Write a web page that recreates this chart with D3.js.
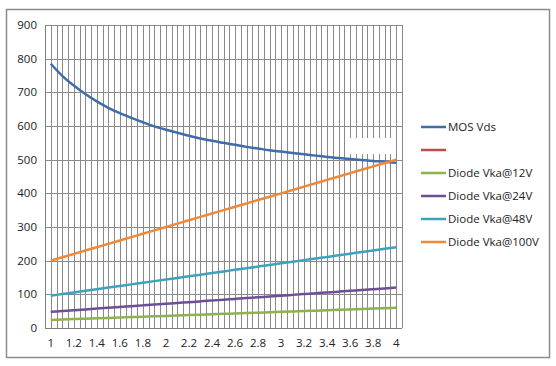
<!DOCTYPE html>
<html><head><meta charset="utf-8">
<script src="https://cdn.jsdelivr.net/npm/d3@7"></script>
<style>body{margin:0;background:#fff}svg{display:block}text{font-family:"Open Sans",Arial,sans-serif}</style>
</head><body><svg id="c" width="556" height="366"></svg>
<script>
const categories = [1,1.1,1.2,1.3,1.4,1.5,1.6,1.7,1.8,1.9,2,2.1,2.2,2.3,2.4,2.5,2.6,2.7,2.8,2.9,3,3.1,3.2,3.3,3.4,3.5,3.6,3.7,3.8,3.9,4];
const mosVds = [785,749,720,695,673,654,638,624,611,599,589,580,571,563,556,550,544,538,533,528,524,520,516,512,508,505,502,499,496,494,491];
const emptySeries = [];
const vka12 = [24,25.2,26.4,27.6,28.8,30,31.2,32.4,33.6,34.8,36,37.2,38.4,39.6,40.8,42,43.2,44.4,45.6,46.8,48,49.2,50.4,51.6,52.8,54,55.2,56.4,57.6,58.8,60];
const vka24 = [48,50.4,52.8,55.2,57.6,60,62.4,64.8,67.2,69.6,72,74.4,76.8,79.2,81.6,84,86.4,88.8,91.2,93.6,96,98.4,100.8,103.2,105.6,108,110.4,112.8,115.2,117.6,120];
const vka48 = [96,100.8,105.6,110.4,115.2,120,124.8,129.6,134.4,139.2,144,148.8,153.6,158.4,163.2,168,172.8,177.6,182.4,187.2,192,196.8,201.6,206.4,211.2,216,220.8,225.6,230.4,235.2,240];
const vka100 = [200,210,220,230,240,250,260,270,280,290,300,310,320,330,340,350,360,370,380,390,400,410,420,430,440,450,460,470,480,490,500];
const seriesNames = ["MOS Vds","","Diode Vka@12V","Diode Vka@24V","Diode Vka@48V","Diode Vka@100V"];
const seriesColors = ["#3F6DAA","#BE4B48","#8DB24E","#6E4F96","#3FA2BD","#F0883A"];
const yTicks = [0,100,200,300,400,500,600,700,800,900];
const xLabels = ["1","1.2","1.4","1.6","1.8","2","2.2","2.4","2.6","2.8","3","3.2","3.4","3.6","3.8","4"];

const allSeries = [mosVds, emptySeries, vka12, vka24, vka48, vka100];
const svg = d3.select("#c");
svg.append("rect").attr("x",6.5).attr("y",9.5).attr("width",543).attr("height",348)
  .attr("fill","#fff").attr("stroke","#8c8c8c").attr("stroke-width",1.5);

const L=45, R=402, T=25, B=328;
const x = d3.scaleBand().domain(categories.map(String)).range([L,R]).padding(0);
const y = d3.scaleLinear().domain([0,900]).range([B,T]);
const g = svg.append("g");

// vertical gridlines at half-category steps
const bw = x.bandwidth();
const vx = d3.range(categories.length*2+1).map(i=>L+i*bw/2);
g.selectAll("line.v").data(vx).join("line").attr("class","v")
  .attr("x1",d=>Math.round(d)+0.5).attr("x2",d=>Math.round(d)+0.5).attr("y1",T).attr("y2",B)
  .attr("stroke","#8a8a8a").attr("stroke-width",1);
g.selectAll("line.h").data(yTicks).join("line").attr("class","h")
  .attr("x1",L).attr("x2",R).attr("y1",d=>Math.round(y(d))+0.5).attr("y2",d=>Math.round(y(d))+0.5)
  .attr("stroke","#8a8a8a").attr("stroke-width",1);
// axes lines
g.append("line").attr("x1",L+0.5).attr("x2",L+0.5).attr("y1",T).attr("y2",B+0.5).attr("stroke","#7f7f7f");
g.append("line").attr("x1",L).attr("x2",R).attr("y1",B+0.5).attr("y2",B+0.5).attr("stroke","#7f7f7f");

// legend background overlapping plot
svg.append("rect").attr("x",347).attr("y",138).attr("width",48).attr("height",16).attr("fill","#fff");

// y labels
svg.selectAll("text.yl").data(yTicks).join("text").attr("class","yl")
  .attr("x",37).attr("y",d=>y(d)).attr("dy","0.35em").attr("text-anchor","end")
  .attr("font-size",11.5).attr("fill","#222").text(d=>d);
// x labels
svg.selectAll("text.xl").data(xLabels).join("text").attr("class","xl")
  .attr("x",d=>x(String(+d))+bw/2).attr("y",343).attr("dy","0.35em").attr("text-anchor","middle")
  .attr("font-size",11.5).attr("fill","#222").text(d=>d);

const line = d3.line().x((d,i)=>x(String(categories[i]))+bw/2).y(d=>y(d)).curve(d3.curveMonotoneX);
allSeries.forEach((s,k)=>{
  if(!s.length) return;
  svg.append("path").attr("d",line(s)).attr("fill","none").attr("stroke",seriesColors[k])
    .attr("stroke-width",2.5).attr("stroke-linejoin","round");
});

// legend
const lg = svg.append("g");
seriesNames.forEach((n,k)=>{
  const yy = 127 + k*23;
  lg.append("line").attr("x1",421).attr("x2",446).attr("y1",yy).attr("y2",yy)
    .attr("stroke",seriesColors[k]).attr("stroke-width",2.5);
  lg.append("text").attr("x",448).attr("y",yy).attr("dy","0.35em").attr("font-size",11.5)
    .attr("fill","#222").text(n);
});
</script></body></html>
